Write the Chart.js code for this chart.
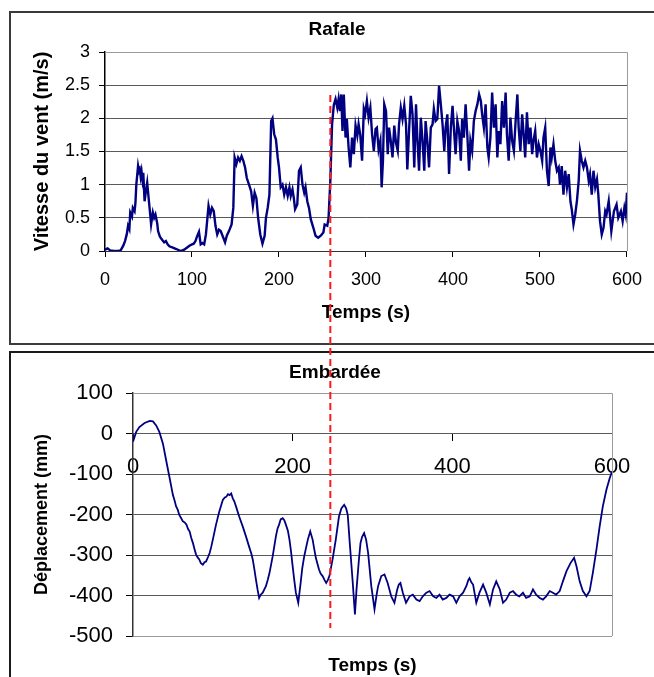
<!DOCTYPE html>
<html>
<head>
<meta charset="utf-8">
<script src="https://cdn.jsdelivr.net/npm/chart.js@4.4.1/dist/chart.umd.min.js"></script>
<style>
  body { margin: 0; width: 654px; height: 677px; overflow: hidden; background: #fff; }
  .box { position: absolute; box-sizing: border-box; }
  #box-top { left: 9px; top: 11px; width: 700px; height: 334px; border: 2px solid #3a3a3a; }
  #box-bottom { left: 9px; top: 351px; width: 700px; height: 400px; border: 2px solid #1a1a1a; }
  canvas { position: absolute; left: 0; }
  #rafale { top: 0; }
  #embardee { top: 348px; }
</style>
</head>
<body>
<div class="box" id="box-top"></div>
<div class="box" id="box-bottom"></div>
<canvas id="rafale" width="654" height="348"></canvas>
<canvas id="embardee" width="654" height="329"></canvas>
<script>
// Rafale : wind speed (m/s) vs time (s)
const rafaleTime = [
  0, 3, 6, 10, 15, 18, 21, 23, 25, 26.5, 28, 29, 31, 32, 34, 35, 36, 38, 39, 40,
  41, 42, 43, 44, 45.5, 47, 48.5, 50.5, 52, 53, 55, 56.5, 58, 60, 61, 63, 65, 68, 70, 72,
  74, 78, 82, 87, 91, 94, 97, 100, 102, 104, 105.5, 108, 110, 112, 114, 116, 119, 121, 123, 125,
  127, 129, 131, 133, 136, 138, 140, 142.5, 145.5, 147.5, 149, 151, 153, 155, 157, 159, 161, 163, 166, 168,
  170, 172, 174, 176, 178.5, 181, 183.5, 185, 187, 189, 191, 192.5, 194.5, 196.5, 198.5, 200, 202, 204, 206, 208,
  210, 212, 213.5, 215.5, 217, 218.5, 221, 223, 225, 227, 229, 230.5, 232.5, 234.5, 236.5, 239.5, 242, 245, 248, 251,
  252.5, 255.5, 257, 259, 261, 263, 265, 267, 268.5, 270, 271.5, 273, 274.5, 276.5, 278, 280, 282, 284, 286, 288,
  290, 291.5, 293.5, 295.5, 297.5, 299, 301, 303, 305, 307, 309, 311, 312.5, 314.5, 316.5, 318, 319.5, 321, 323, 325,
  326.5, 328.5, 330.5, 332.5, 334.5, 336.5, 338, 340, 342, 344, 346, 347.5, 349.5, 351.5, 353.5, 355.5, 357.5, 359, 361, 363,
  365, 367, 368.5, 370.5, 372.5, 374.5, 376.5, 378, 380, 382, 384, 386, 388, 390, 391.5, 393.5, 395.5, 397.5, 399.5, 401,
  403, 405, 407, 409, 410.5, 412.5, 414.5, 416.5, 418.5, 420, 422, 424, 426, 428, 430, 432, 433.5, 435.5, 437.5, 439.5,
  441, 443, 445, 447, 449, 451, 452.5, 454.5, 456.5, 458.5, 460.5, 462, 464, 466, 468, 470, 472, 474, 475.5, 477.5,
  479.5, 481.5, 483, 485, 487, 489, 491, 492.5, 494.5, 496.5, 498.5, 500.5, 502.5, 504, 506, 508, 510, 512, 513.5, 515.5,
  517.5, 519.5, 521.5, 523, 525, 527, 529, 531, 533, 535, 536.5, 538.5, 540.5, 542.5, 544.5, 546, 548, 550, 552, 554,
  556, 557.5, 559.5, 561.5, 563.5, 565.5, 567, 569, 571, 573, 575, 576.5, 579, 582, 585, 588, 590, 593, 595, 597,
  598.5, 600
];
const rafaleSpeed = [
  0.02, 0.04, 0.01, 0.0, 0.0, 0.01, 0.08, 0.15, 0.25, 0.38, 0.33, 0.58, 0.52, 0.65, 0.6, 0.73, 1.0, 1.28, 1.2, 1.23,
  1.12, 1.2, 1.08, 1.18, 0.75, 0.9, 1.03, 0.75, 0.55, 0.4, 0.58, 0.5, 0.55, 0.42, 0.3, 0.22, 0.18, 0.13, 0.15, 0.1,
  0.07, 0.05, 0.03, 0.0, 0.02, 0.05, 0.08, 0.1, 0.11, 0.15, 0.21, 0.29, 0.1, 0.12, 0.1, 0.25, 0.68, 0.55, 0.65, 0.6,
  0.38, 0.25, 0.32, 0.3, 0.2, 0.13, 0.23, 0.3, 0.4, 0.65, 1.41, 1.31, 1.41, 1.36, 1.43, 1.36, 1.26, 1.1, 0.98, 0.9,
  0.68, 0.88, 0.8, 0.5, 0.25, 0.11, 0.23, 0.5, 0.65, 0.85, 1.96, 2.0, 1.76, 1.68, 1.41, 1.26, 0.96, 1.0, 0.85, 0.96,
  0.83, 0.96, 0.83, 0.93, 0.8, 0.63, 0.7, 1.21, 1.26, 1.0, 0.88, 0.96, 0.75, 0.65, 0.48, 0.35, 0.23, 0.2, 0.23, 0.28,
  0.4, 0.38, 0.5, 1.06, 1.91, 2.2, 2.29, 2.16, 2.29, 2.11, 2.36, 1.81, 2.36, 1.71, 1.99, 1.56, 1.26, 1.71, 1.46, 1.89,
  1.74, 1.91, 1.74, 1.36, 2.14, 2.06, 2.26, 2.01, 2.16, 1.76, 1.51, 1.84, 1.86, 1.53, 1.66, 0.96, 1.36, 2.21, 2.11, 1.46,
  1.86, 1.66, 1.41, 1.89, 1.63, 1.51, 1.91, 2.16, 1.99, 2.19, 1.91, 1.23, 1.81, 2.34, 2.06, 1.26, 2.21, 1.71, 1.21, 2.01,
  1.66, 1.21, 1.96, 1.66, 1.26, 1.86, 1.91, 2.14, 1.96, 1.99, 2.49, 2.21, 1.91, 1.51, 1.86, 2.06, 1.16, 1.86, 2.19, 1.86,
  1.46, 1.96, 1.81, 1.36, 1.99, 1.71, 2.21, 1.74, 1.21, 1.66, 1.51, 1.96, 2.11, 2.21, 2.36, 2.26, 2.06, 1.86, 2.21, 1.56,
  1.41, 1.71, 2.39, 1.86, 2.21, 1.41, 1.81, 1.61, 2.26, 1.86, 2.39, 1.76, 1.36, 2.01, 1.66, 1.51, 1.96, 2.36, 1.86, 1.51,
  2.06, 1.71, 1.41, 2.09, 1.61, 1.86, 1.46, 1.66, 1.81, 1.41, 1.61, 1.51, 1.36, 1.71, 1.86, 1.21, 0.98, 1.56, 1.41, 1.61,
  1.36, 1.21, 1.26, 1.0, 1.28, 0.85, 1.21, 0.96, 1.16, 0.75, 0.63, 0.4, 0.55, 0.76, 1.06, 1.51, 1.36, 1.26, 1.36, 1.26,
  1.06, 1.16, 0.85, 1.21, 0.96, 1.08, 0.86, 0.45, 0.25, 0.35, 0.6, 0.55, 0.75, 0.3, 0.6, 0.7, 0.5, 0.6, 0.45, 0.65,
  0.55, 0.88
];

// Embardée : lateral displacement (mm) vs time (s)
const embardeeTime = [
  0, 4, 8, 14.5, 21, 25, 29, 33, 37.5, 41.5, 46, 50, 52, 54, 56, 58, 60, 62.5, 65, 67,
  69, 71, 73, 75, 77, 79, 81, 83, 85, 87.5, 89.5, 91.5, 94, 96, 98, 100, 104, 108, 112.5, 115,
  117, 119, 121, 123, 125, 127, 129, 133, 137.5, 141.5, 146, 148, 150, 152, 154, 156, 158, 160, 162.5, 164.5,
  166.5, 169, 171, 175, 179, 181, 183, 185, 187.5, 189.5, 191.5, 194, 196, 198, 200, 202, 204, 207, 210, 212,
  214.5, 217, 219, 222, 225, 227, 229, 233, 235, 237.5, 240, 242, 244, 246, 250, 254, 258, 261, 264.5, 267,
  269, 271.5, 275, 278, 280, 283, 285, 287, 289.5, 292, 294.5, 298.5, 302.5, 305, 307, 311, 315, 319, 323.5, 327.5,
  331, 333, 335, 338, 342, 346.5, 350.5, 355, 359, 363, 367.5, 371.5, 376, 380, 384, 388, 392.5, 396.5, 401, 405,
  409, 413.5, 417.5, 420, 421.5, 424, 426, 430, 434, 438.5, 442.5, 447, 451, 455, 459.5, 463.5, 467.5, 472, 476, 480,
  484, 488.5, 492.5, 497, 501, 505, 509.5, 513.5, 517.5, 522, 526, 530, 534.5, 538.5, 543, 548, 552.5, 555.5, 559.5, 563.5,
  568, 572, 576, 580.5, 584.5, 588.5, 593, 597, 600
];
const embardeeDepl = [
  -20, 4, 16, 26, 31, 30, 20, 4, -25, -66, -111, -152, -165, -180, -188, -201, -208, -217, -220, -225,
  -236, -242, -258, -270, -285, -299, -306, -311, -320, -324, -318, -316, -305, -295, -280, -262, -225, -193, -164, -158,
  -156, -150, -152, -148, -160, -168, -180, -205, -230, -254, -283, -295, -311, -335, -361, -385, -406, -398, -393, -385,
  -377, -360, -344, -303, -254, -235, -225, -212, -209, -214, -225, -240, -262, -292, -328, -362, -393, -418, -369, -333,
  -303, -280, -262, -242, -262, -285, -307, -336, -346, -352, -362, -369, -362, -352, -311, -262, -205, -185, -176, -185,
  -201, -270, -361, -447, -385, -311, -270, -255, -246, -262, -295, -377, -434, -400, -377, -352, -348, -369, -402, -418,
  -385, -373, -369, -393, -418, -402, -398, -410, -414, -402, -393, -389, -402, -406, -398, -410, -406, -398, -402, -418,
  -402, -393, -377, -362, -357, -368, -373, -418, -393, -373, -393, -422, -385, -365, -385, -418, -410, -393, -389, -398,
  -402, -393, -406, -402, -385, -398, -406, -410, -402, -389, -393, -398, -389, -365, -340, -320, -307, -328, -365, -389,
  -402, -389, -344, -287, -230, -180, -139, -111, -94
];

// time where the gust starts (red dashed marker) and its extent on each chart
const gustStart = 259;
const gustTopSpeed = 2.35;
const gustBottomDepl = -480;

const navy = '#000080';
const gridColor = '#5a5a5a';
const frameColor = '#9a9a9a';
const font = '"Liberation Sans", Arial, sans-serif';

Chart.defaults.font.family = font;
Chart.defaults.color = '#000';
Chart.defaults.animation = false;

// plot area frame (grey, top and right sides)
const frame = {
  id: 'frame',
  beforeDatasetsDraw(chart) {
    const {ctx, chartArea: a} = chart;
    ctx.save();
    ctx.strokeStyle = frameColor;
    ctx.lineWidth = 1;
    ctx.beginPath();
    ctx.moveTo(a.left, a.top + 0.5);
    ctx.lineTo(a.right + 0.5, a.top + 0.5);
    ctx.lineTo(a.right + 0.5, a.bottom);
    ctx.stroke();
    ctx.restore();
  }
};

// chart heading drawn inside the box
const heading = {
  id: 'heading',
  afterDraw(chart, args, opts) {
    const ctx = chart.ctx;
    ctx.save();
    ctx.font = 'bold 19px ' + font;
    ctx.fillStyle = '#000';
    ctx.textAlign = 'center';
    ctx.textBaseline = 'middle';
    ctx.fillText(opts.text, opts.x, opts.y);
    ctx.restore();
  }
};

let rafaleChart = null;

// red dashed line marking the gust, running across both charts
const gustLine = {
  id: 'gustLine',
  afterDraw(chart, args, opts) {
    const top = opts.part === 'top' ? chart : rafaleChart;
    if (!top) return;
    const ctx = chart.ctx;
    const x = top.scales.x.getPixelForValue(gustStart);
    const topY = top.scales.y.getPixelForValue(gustTopSpeed);
    let y0, y1;
    if (opts.part === 'top') {
      y0 = topY;
      y1 = chart.height;
    } else {
      y0 = 0;
      y1 = chart.scales.y.getPixelForValue(gustBottomDepl);
    }
    ctx.save();
    ctx.strokeStyle = '#ff1a1a';
    ctx.lineWidth = 2;
    ctx.setLineDash([7, 4]);
    if (opts.part !== 'top') ctx.lineDashOffset = (top.height - topY) % 11;
    ctx.beginPath();
    ctx.moveTo(x, y0);
    ctx.lineTo(x, y1);
    ctx.stroke();
    ctx.restore();
  }
};

function edgeGrid(c) {
  return (c.tick && (c.tick.value === c.scale.max || c.tick.value === c.scale.min)) ? frameColor : gridColor;
}

const plain = v => String(v);

rafaleChart = new Chart(document.getElementById('rafale'), {
  type: 'line',
  data: {
    datasets: [{
      data: rafaleTime.map((t, i) => ({x: t, y: rafaleSpeed[i]})),
      borderColor: navy,
      borderWidth: 2.4,
      pointRadius: 0,
      tension: 0
    }]
  },
  options: {
    responsive: false,
    layout: {padding: {left: 30, top: 52, right: 24, bottom: 24}},
    plugins: {
      legend: {display: false},
      tooltip: {enabled: false},
      heading: {text: 'Rafale', x: 337, y: 30},
      gustLine: {part: 'top'}
    },
    scales: {
      x: {
        type: 'linear',
        min: 0, max: 600,
        afterFit: s => { s.height = 73; },
        ticks: {stepSize: 100, padding: 12, font: {size: 18}, color: '#000', callback: plain},
        grid: {drawOnChartArea: false, tickLength: 6, tickColor: '#000'},
        border: {color: '#333', width: 1},
        title: {display: true, text: 'Temps (s)', padding: 0, font: {size: 19, weight: 'bold'}, color: '#000'}
      },
      y: {
        min: 0, max: 3,
        afterFit: s => { s.width = 75; },
        ticks: {stepSize: 0.5, padding: 9, font: {size: 18}, color: '#000', callback: plain},
        grid: {color: c => c.tick.value === 3 ? frameColor : gridColor, tickLength: 6, tickColor: '#000'},
        border: {color: '#000', width: 1.5},
        title: {display: true, text: 'Vitesse du vent (m/s)', padding: 0, font: {size: 20, weight: 'bold'}, color: '#000'}
      }
    }
  },
  plugins: [frame, heading, gustLine]
});

new Chart(document.getElementById('embardee'), {
  type: 'line',
  data: {
    datasets: [{
      data: embardeeTime.map((t, i) => ({x: t, y: embardeeDepl[i]})),
      borderColor: navy,
      borderWidth: 1.8,
      pointRadius: 0,
      tension: 0
    }]
  },
  options: {
    responsive: false,
    layout: {padding: {left: 31, top: 45, right: 42, bottom: 0}},
    plugins: {
      legend: {display: false},
      tooltip: {enabled: false},
      heading: {text: 'Embardée', x: 335, y: 25},
      gustLine: {part: 'bottom'}
    },
    scales: {
      x: {
        type: 'linear',
        position: {y: 0},
        min: 0, max: 600,
        ticks: {stepSize: 200, padding: 13, font: {size: 22}, color: '#000', callback: plain},
        grid: {drawOnChartArea: false, tickLength: 7, tickColor: '#000'},
        border: {color: gridColor, width: 1}
      },
      x2: {
        type: 'linear',
        position: 'bottom',
        min: 0, max: 600,
        afterFit: s => { s.height = 41; },
        ticks: {display: false},
        grid: {display: false},
        border: {display: false},
        title: {display: true, text: 'Temps (s)', padding: 0, font: {size: 19, weight: 'bold'}, color: '#000'}
      },
      y: {
        min: -500, max: 100,
        afterFit: s => { s.width = 102; },
        ticks: {stepSize: 100, padding: 13, font: {size: 22}, color: '#000', callback: plain},
        grid: {color: edgeGrid, tickLength: 7, tickColor: '#000'},
        border: {color: '#333', width: 1.5},
        title: {display: true, text: 'Déplacement (mm)', padding: 0, font: {size: 18, weight: 'bold'}, color: '#000'}
      }
    }
  },
  plugins: [frame, heading, gustLine]
});
</script>
</body>
</html>
